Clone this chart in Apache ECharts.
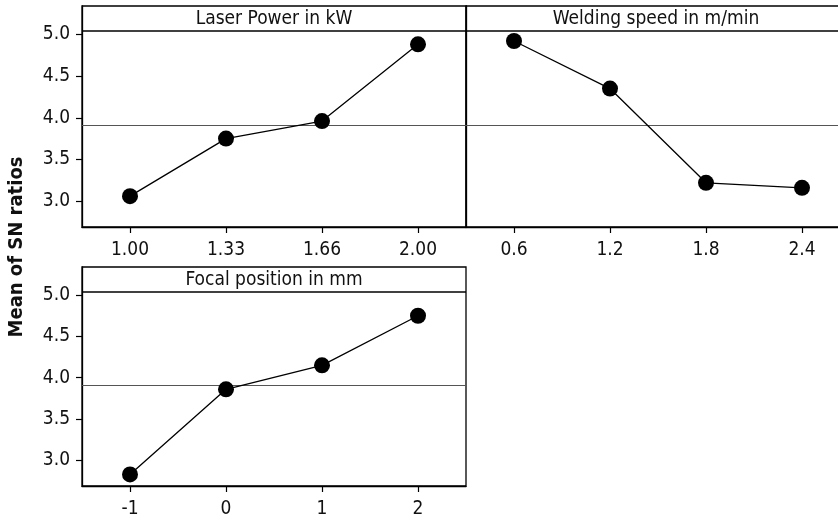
<!DOCTYPE html>
<html>
<head>
<meta charset="utf-8">
<title>Main Effects Plot for SN ratios</title>
<script src="https://cdn.jsdelivr.net/npm/echarts@6/dist/echarts.min.js"></script>
<style>
  html, body { margin: 0; padding: 0; background: #fff; }
  #chart { width: 838px; height: 520px; }
</style>
</head>
<body>
<div id="chart"></div>
<script>
// Factor levels and mean S/N ratio at each level
const laserPowerLevels = ['1.00', '1.33', '1.66', '2.00'];
const laserPowerSN = [3.06, 3.75, 3.96, 4.88];

const weldingSpeedLevels = ['0.6', '1.2', '1.8', '2.4'];
const weldingSpeedSN = [4.92, 4.35, 3.22, 3.16];

const focalPositionLevels = ['-1', '0', '1', '2'];
const focalPositionSN = [2.83, 3.86, 4.15, 4.75];

const panelTitles = ['Laser Power in kW', 'Welding speed in m/min', 'Focal position in mm'];
const yTickValues = [3.0, 3.5, 4.0, 4.5, 5.0];
const yAxisTitle = 'Mean of SN ratios';

// Grand mean of all S/N ratios (reference line in every panel)
const allSN = laserPowerSN.concat(weldingSpeedSN, focalPositionSN);
const grandMean = allSN.reduce((a, b) => a + b, 0) / allSN.length;

const FONT = '"DejaVu Sans Condensed", "DejaVu Sans", sans-serif';
const INK = '#000';

// Panel frames (plot area including the title strip); the second panel runs past the right edge
const panels = [
  { box: { left: 82, top: 6, width: 384, height: 221 }, levels: laserPowerLevels, values: laserPowerSN, showY: true },
  { box: { left: 466, top: 6, width: 384, height: 221 }, levels: weldingSpeedLevels, values: weldingSpeedSN, showY: false },
  { box: { left: 82, top: 267, width: 384, height: 219 }, levels: focalPositionLevels, values: focalPositionSN, showY: true }
];
const STRIP = 25;

const grid = [], xAxis = [], yAxis = [], series = [], graphic = [];

panels.forEach((p, i) => {
  const b = p.box;
  grid.push(Object.assign({
    outerBoundsMode: 'none', containLabel: false,
    show: true, borderColor: INK, borderWidth: 1.3, backgroundColor: 'transparent'
  }, b));
  xAxis.push({
    type: 'category', gridIndex: i, data: p.levels, boundaryGap: true,
    axisLine: { show: true, lineStyle: { color: INK, width: 1.3 } },
    axisTick: { show: true, alignWithLabel: true, length: 6, lineStyle: { color: INK, width: 1.2 } },
    axisLabel: { color: '#111', fontFamily: FONT, fontSize: 19, margin: 14 },
    splitLine: { show: false }
  });
  yAxis.push({
    type: 'value', gridIndex: i, min: 2.69, max: 5.34,
    axisLine: { show: true, lineStyle: { color: INK, width: 1.3 } },
    axisTick: { show: p.showY, length: 6, customValues: yTickValues, lineStyle: { color: INK, width: 1.2 } },
    axisLabel: {
      show: p.showY, customValues: yTickValues, color: '#111',
      fontFamily: FONT, fontSize: 19, margin: 12,
      formatter: v => Number(v).toFixed(1)
    },
    splitLine: { show: false }
  });
  series.push({
    type: 'line', xAxisIndex: i, yAxisIndex: i, data: p.values,
    symbol: 'circle', symbolSize: 16,
    lineStyle: { color: INK, width: 1.3 },
    itemStyle: { color: INK },
    z: 3,
    markLine: {
      silent: true, symbol: 'none', label: { show: false },
      lineStyle: { color: '#555', width: 1.2, type: 'solid' },
      data: [{ yAxis: grandMean }],
      z: 1
    }
  });
  // title strip
  graphic.push({
    type: 'line', silent: true,
    shape: { x1: b.left, y1: b.top + STRIP, x2: b.left + b.width, y2: b.top + STRIP },
    style: { stroke: INK, lineWidth: 1.3 }
  });
  graphic.push({
    type: 'text', silent: true,
    x: b.left + b.width / 2 - (i === 1 ? 2 : 0), y: b.top + STRIP / 2 + 1,
    style: {
      text: panelTitles[i], fill: '#111', font: '19px ' + FONT,
      textAlign: 'center', textVerticalAlign: 'middle'
    }
  });
});

graphic.push({
  type: 'text', silent: true,
  x: 17, y: 247, rotation: Math.PI / 2,
  style: {
    text: yAxisTitle, fill: '#111', font: 'bold 20px ' + FONT,
    textAlign: 'center', textVerticalAlign: 'middle'
  }
});

const chart = echarts.init(document.getElementById('chart'), null, { renderer: 'canvas' });
chart.setOption({
  animation: false,
  backgroundColor: '#fff',
  grid, xAxis, yAxis, series, graphic
});
</script>
</body>
</html>
